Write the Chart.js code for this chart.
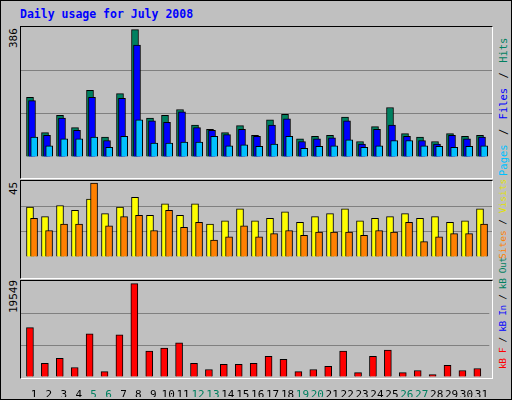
<!DOCTYPE html>
<html>
<head>
<meta charset="utf-8">
<script src="https://cdn.jsdelivr.net/npm/chart.js@4"></script>
<style>
  body { margin: 0; background: #fff; }
  #wrap { position: relative; width: 510px; height: 398px; background: #c0c0c0; border: 1px solid #000; }
  .panel { position: absolute; left: 19px; width: 471px; border-top: 1px solid #000; border-left: 1px solid #000;
           border-right: 1px solid #fff; border-bottom: 1px solid #fff; }
  canvas { position: absolute; left: 0; top: 0; }
  .txt { position: absolute; font-family: 'DejaVu Sans Mono', monospace; font-size: 11px; white-space: nowrap; }
  .rot { transform-origin: 0 0; transform: rotate(-90deg); }
  .leg { font-size: 9.5px; }
</style>
</head>
<body>
<div id="wrap">
  <div class="txt" style="left:19px;top:6px;font-size:11.5px;font-weight:bold;color:#0000ff">Daily usage for July 2008</div>
  <div class="panel" style="top:25px;height:151px"><canvas id="c1"></canvas></div>
  <div class="panel" style="top:179px;height:97px"><canvas id="c2"></canvas></div>
  <div class="panel" style="top:279px;height:97px"></div>
  <canvas id="c3" style="left:20px;top:280px"></canvas>
  <div class="txt rot" style="left:6px;top:47px">386</div>
  <div class="txt rot" style="left:6px;top:194px">45</div>
  <div class="txt rot" style="left:6px;top:312px">19549</div>
  <div class="txt rot leg" style="left:496px;top:175px;font-size:10.5px;word-spacing:3px"><span style="color:#00c0ff">Pages</span> / <span style="color:#0000ff">Files</span> / <span style="color:#008060">Hits</span></div>
  <div class="txt rot leg" style="left:496px;top:258px"><span style="color:#ff8000">Sites</span> / <span style="color:#e0e000">Visits</span></div>
  <div class="txt rot leg" style="left:496px;top:368px;letter-spacing:-0.4px"><span style="color:#ff0000">kB F</span> / <span style="color:#0000ff">kB In</span> / <span style="color:#008060">kB Out</span></div>
</div>
<script>
const days = Array.from({ length: 31 }, (_, i) => i + 1);
const weekendDays = [5, 6, 12, 13, 19, 20, 26, 27];

const hits   = [181, 74, 126, 89, 202, 60, 192, 386, 118, 126, 144, 97, 84, 74, 95, 66, 113, 129, 55, 63, 66, 121, 47, 92, 150, 71, 60, 47, 71, 63, 66];
const files  = [171, 66, 118, 81, 181, 50, 178, 339, 110, 105, 137, 89, 81, 68, 84, 63, 97, 116, 47, 55, 58, 110, 39, 84, 97, 63, 50, 39, 66, 55, 60];
const pages  = [60, 34, 55, 55, 60, 29, 63, 113, 42, 42, 45, 45, 63, 34, 37, 32, 39, 63, 26, 32, 34, 52, 29, 34, 50, 50, 34, 32, 29, 32, 34];
const visits = [30.3, 24.5, 31.3, 28.4, 35.2, 26.4, 30.3, 36.2, 25.4, 32.3, 25.4, 32.3, 20, 22, 29.3, 22, 23.5, 27.4, 21, 24.5, 26.4, 29.3, 22, 23.5, 24.5, 26.4, 23.5, 24.5, 21, 22, 29.3];
const sites  = [23.5, 16.1, 20, 20, 45, 19, 24.5, 25.4, 16.1, 28.4, 18.1, 21, 10.3, 12.2, 19, 12.2, 14.2, 16.1, 13.2, 15.2, 15.2, 15.2, 13.2, 16.1, 15.2, 21, 9.3, 12.2, 14.2, 14.2, 20];
const kbF    = [10346, 2854, 3924, 1998, 9061, 1142, 8847, 19549, 5423, 6065, 7135, 2854, 1570, 2640, 2640, 2854, 4352, 3710, 1142, 1570, 2212, 5423, 928, 4352, 5637, 928, 1356, 500, 2426, 1356, 1784];

const X_MIN = 0.4, X_MAX = 31.8;

function pts(vals, off) {
  return vals.map((v, i) => ({ x: days[i] + off, y: v }));
}
// lower order = drawn on top
function ds(vals, off, color, order) {
  return { data: pts(vals, off), backgroundColor: color, borderColor: '#000', borderWidth: 1,
           borderSkipped: 'bottom', barThickness: 7, grouped: false, order };
}

function makeChart(id, w, h, datasets, yMax, showX) {
  const c = document.getElementById(id);
  c.width = w; c.height = h;
  c.style.width = w + 'px'; c.style.height = h + 'px';
  return new Chart(c, {
    type: 'bar',
    data: { datasets },
    options: {
      responsive: false, animation: false,
      layout: { padding: 0 },
      plugins: { legend: { display: false }, tooltip: { enabled: false } },
      scales: {
        x: {
          type: 'linear', min: X_MIN, max: X_MAX, offset: false,
          display: showX,
          grid: { display: false }, border: { display: false },
          afterBuildTicks: s => { s.ticks = days.map(d => ({ value: d + 0.27 })); },
          afterFit: s => { s.height = 20; },
          ticks: {
            autoSkip: false, maxRotation: 0, padding: 4,
            callback: v => Math.floor(v),
            color: ctx => weekendDays.includes(days[ctx.index]) ? '#008060' : '#000',
            font: { family: "'DejaVu Sans Mono', monospace", size: 11 }
          }
        },
        y: {
          min: 0, max: yMax, display: true,
          ticks: { display: false, stepSize: yMax / 3 },
          afterFit: s => { s.width = 0; },
          grid: { color: ctx => (ctx.tick.value > 0 && ctx.tick.value < yMax) ? '#808080' : 'rgba(0,0,0,0)', drawTicks: false, lineWidth: 1 },
          border: { display: false }
        }
      }
    }
  });
}

makeChart('c1', 471, 150, [
  ds(hits, 0, '#008060', 3),
  ds(files, 0.133, '#0000ff', 2),
  ds(pages, 0.28, '#00c0ff', 1)
], 394, false);

makeChart('c2', 471, 96, [
  ds(visits, 0, '#ffff00', 2),
  ds(sites, 0.27, '#ff8000', 1)
], 46.2, false);

makeChart('c3', 471, 116, [
  ds(kbF, 0, '#ff0000', 1)
], 20100, true);
</script>
</body>
</html>
